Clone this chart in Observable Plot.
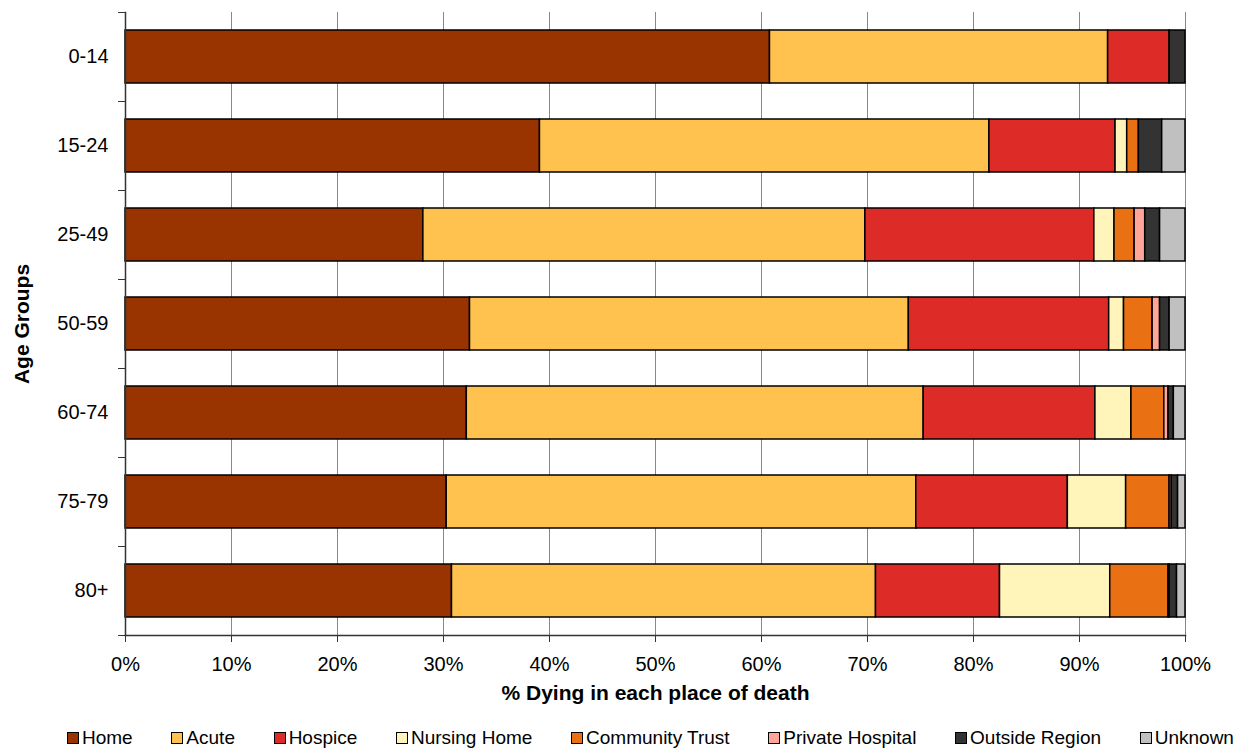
<!DOCTYPE html>
<html>
<head>
<meta charset="utf-8">
<script src="https://cdn.jsdelivr.net/npm/d3@7"></script>
<script src="https://cdn.jsdelivr.net/npm/@observablehq/plot@0.6"></script>
<style>
  html, body { margin: 0; padding: 0; background: #fff; }
  body { width: 1236px; height: 748px; overflow: hidden; font-family: "Liberation Sans", Arial, sans-serif; }
  #legend { display: flex; justify-content: space-between; margin: 16px 2px 0 67px; font-size: 19px; color: #000; line-height: 20px; }
  #legend .item { display: flex; align-items: center; white-space: nowrap; }
  #legend .sw { width: 10px; height: 10px; border: 1.5px solid #000; margin-right: 3px; }
</style>
</head>
<body>
<div id="chart"></div>
<div id="legend"></div>
<script>
const ageGroups = ["0-14", "15-24", "25-49", "50-59", "60-74", "75-79", "80+"];
const places = ["Home", "Acute", "Hospice", "Nursing Home", "Community Trust", "Private Hospital", "Outside Region", "Unknown"];
const placeColors = ["#993300", "#FFC24F", "#DD2C27", "#FFF5BA", "#EA7014", "#FFA699", "#333333", "#C0C0C0"];

const home      = [60.8, 39.1, 28.1, 32.5, 32.2, 30.3, 30.8];
const acute     = [31.9, 42.4, 41.7, 41.4, 43.1, 44.3, 40.0];
const hospice   = [5.8, 11.9, 21.6, 18.9, 16.2, 14.3, 11.7];
const nursing   = [0, 1.1, 1.9, 1.4, 3.4, 5.5, 10.4];
const community = [0, 1.1, 1.9, 2.7, 3.1, 4.1, 5.5];
const privateH  = [0, 0, 1.0, 0.7, 0.4, 0.2, 0.1];
const outside   = [1.5, 2.2, 1.4, 0.9, 0.5, 0.6, 0.7];
const unknown   = [0, 2.2, 2.4, 1.5, 1.1, 0.7, 0.8];

const xTicks = [0, 10, 20, 30, 40, 50, 60, 70, 80, 90, 100];
const xTitle = "% Dying in each place of death";
const yTitle = "Age Groups";

const series = [home, acute, hospice, nursing, community, privateH, outside, unknown];
const data = [];
ageGroups.forEach((age, i) => {
  places.forEach((p, j) => {
    const v = series[j][i];
    if (v > 0) data.push({age, place: p, value: v});
  });
});

const W = 1236, H = 712;
const mTop = 12, mBottom = 77, mLeft = 125, mRight = 51;
const step = (H - mTop - mBottom) / ageGroups.length;

const chart = Plot.plot({
  width: W,
  height: H,
  marginTop: mTop,
  marginBottom: mBottom,
  marginLeft: mLeft,
  marginRight: mRight,
  style: { fontFamily: "'Liberation Sans', Arial, sans-serif", fontSize: "20px", color: "#000", background: "#fff" },
  x: { domain: [0, 100], label: null },
  y: { domain: ageGroups, paddingInner: 0.4, paddingOuter: 0.2, label: null },
  color: { domain: places, range: placeColors },
  marks: [
    Plot.gridX(xTicks.filter(d => d > 0), { stroke: "#888", strokeOpacity: 1, strokeWidth: 1 }),
    Plot.barX(data, Plot.stackX({ y: "age", x: "value", fill: "place", stroke: "#000", strokeWidth: 1.5, order: null })),
    Plot.frame({ anchor: "left", stroke: "#333", strokeWidth: 1.5 }),
    Plot.frame({ anchor: "bottom", stroke: "#333", strokeWidth: 1.5 }),
    Plot.axisX({ ticks: xTicks, tickFormat: d => d + "%", tickSize: 7, tickPadding: 14, stroke: "#333", fontSize: 20, label: null }),
    Plot.axisY({ tickSize: 0, tickPadding: 17, fontSize: 20, label: null }),
    Plot.axisY({ tickSize: 7, text: null, dy: -step / 2, stroke: "#333", label: null }),
    Plot.axisY({ ticks: [ageGroups[ageGroups.length - 1]], tickSize: 7, text: null, dy: step / 2, stroke: "#333", label: null }),
    Plot.text([xTitle], { text: d => d, frameAnchor: "bottom", lineAnchor: "middle", dy: 58, fontWeight: "bold", fontSize: 21 }),
    Plot.text([yTitle], { text: d => d, frameAnchor: "left", textAnchor: "middle", dx: -103, rotate: -90, fontWeight: "bold", fontSize: 21 })
  ]
});
document.getElementById("chart").appendChild(chart);

const legend = document.getElementById("legend");
places.forEach((p, j) => {
  const item = document.createElement("div");
  item.className = "item";
  const sw = document.createElement("span");
  sw.className = "sw";
  sw.style.background = placeColors[j];
  item.appendChild(sw);
  item.appendChild(document.createTextNode(p));
  legend.appendChild(item);
});
</script>
</body>
</html>
